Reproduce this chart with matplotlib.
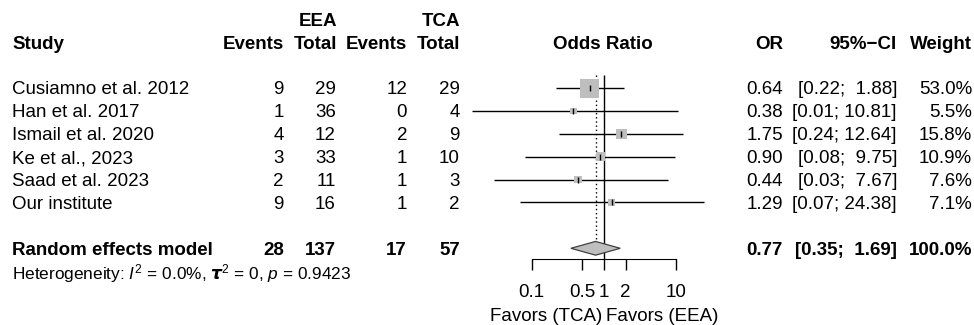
import numpy as np
import matplotlib
matplotlib.use("Agg")
import matplotlib.pyplot as plt
from matplotlib.transforms import blended_transform_factory

# --- Data ---
studies = [
    "Cusiamno et al. 2012",
    "Han et al. 2017",
    "Ismail et al. 2020",
    "Ke et al., 2023",
    "Saad et al. 2023",
    "Our institute",
]
eea_events = [9, 1, 4, 3, 2, 9]
eea_total = [29, 36, 12, 33, 11, 16]
tca_events = [12, 0, 2, 1, 1, 1]
tca_total = [29, 4, 9, 10, 3, 2]
odds = [0.64, 0.38, 1.75, 0.90, 0.44, 1.29]
ci_low = [0.22, 0.0149, 0.24, 0.08, 0.03, 0.07]
ci_high = [1.88, 10.81, 12.64, 9.75, 7.67, 24.38]
weights = [53.0, 5.5, 15.8, 10.9, 7.6, 7.1]

pooled_or = 0.77
pooled_low = 0.35
pooled_high = 1.69
pooled_counts = [28, 137, 17, 57]
heterogeneity = r"Heterogeneity: $I^2$ = 0.0%, $\boldsymbol{\tau}^2$ = 0, $p$ = 0.9423"

xticks = [0.1, 0.5, 1, 2, 10]
xtick_labels = ["0.1", "0.5", "1", "2", "10"]

# --- Style ---
plt.rcParams["font.family"] = ["Liberation Sans", "DejaVu Sans"]
plt.rcParams["mathtext.fontset"] = "custom"
plt.rcParams["mathtext.rm"] = "Liberation Sans"
plt.rcParams["mathtext.it"] = "Liberation Sans:italic"
plt.rcParams["mathtext.bf"] = "Liberation Sans:bold"
fs = 13.5
W, H = 974, 325
row0, row_h = 19.3, 22.9  # pixel y of row 0, row spacing
gray = "#BEBEBE"

fig = plt.figure(figsize=(W / 100, H / 100), dpi=100)
ax = fig.add_axes([459.4 / W, 0, 288.8 / W, 1])
ax.set_xscale("log")
ax.set_xlim(0.01, 100)
ax.set_ylim((H - row0) / row_h, -row0 / row_h)
for s in ["top", "left", "right"]:
    ax.spines[s].set_visible(False)
ax.yaxis.set_visible(False)
ax.patch.set_alpha(0)

first = 3
rows = np.arange(first, first + len(studies))
pooled_row = first + len(studies) + 1
het_row = pooled_row + 1
axis_row = (259 - row0) / row_h

# reference lines
ax.vlines(1, (75 - row0) / row_h, axis_row, color="black", lw=1.0, zorder=1)
ax.vlines(pooled_or, (75 - row0) / row_h, pooled_row - 0.3, color="black",
          lw=1.0, linestyles=(0, (1, 2)), zorder=1)

# study CIs and boxes
ax.hlines(rows, ci_low, ci_high, color="black", lw=1.0, zorder=2)
side_px = 19 * np.sqrt(np.array(weights) / max(weights))
ax.scatter(odds, rows, s=(side_px * 0.72) ** 2, marker="s", color=gray,
           edgecolors="none", zorder=3)
ax.scatter(odds, rows, s=16, marker="|", color="black", lw=1.0, zorder=4)

# pooled diamond
h = 0.3
ax.fill([pooled_low, pooled_or, pooled_high, pooled_or],
        [pooled_row, pooled_row - h, pooled_row, pooled_row + h],
        facecolor=gray, edgecolor="#404040", lw=0.9, zorder=3)

# x axis
ax.spines["bottom"].set_position(("data", axis_row))
ax.spines["bottom"].set_bounds(0.1, 10)
ax.set_xticks(xticks)
ax.set_xticklabels(xtick_labels)
ax.minorticks_off()
ax.tick_params(axis="x", length=8, width=1.0, pad=10, labelsize=fs)

tr = blended_transform_factory(fig.transFigure, ax.transData)


def put(xpx, row, text, ha="right", bold=False, size=fs):
    fig.text(xpx / W, row, text, transform=tr, ha=ha, va="center_baseline",
             fontsize=size, fontweight="bold" if bold else "normal")


# headers
put(337, 0, "EEA", bold=True)
put(460, 0, "TCA", bold=True)
put(12, 1, "Study", ha="left", bold=True)
put(284, 1, "Events", bold=True)
put(337, 1, "Total", bold=True)
put(407, 1, "Events", bold=True)
put(460, 1, "Total", bold=True)
put(603, 1, "Odds Ratio", ha="center", bold=True)
put(783, 1, "OR", bold=True)
put(897, 1, "95%\u2212CI", bold=True)
put(972, 1, "Weight", bold=True)

# study rows
for i, r in enumerate(rows):
    put(12, r, studies[i], ha="left")
    put(284, r, str(eea_events[i]))
    put(336, r, str(eea_total[i]))
    put(407, r, str(tca_events[i]))
    put(460, r, str(tca_total[i]))
    put(783, r, f"{odds[i]:.2f}")
    put(897, r, f"[{ci_low[i]:.2f}; {ci_high[i]:5.2f}]")
    put(972, r, f"{weights[i]:.1f}%")

# pooled row
put(12, pooled_row, "Random effects model", ha="left", bold=True)
for xpx, v in zip([284, 336, 407, 460], pooled_counts):
    put(xpx, pooled_row, str(v), bold=True)
put(783, pooled_row, f"{pooled_or:.2f}", bold=True)
put(897, pooled_row, f"[{pooled_low:.2f}; {pooled_high:5.2f}]", bold=True)
put(972, pooled_row, "100.0%", bold=True)
put(12, het_row, heterogeneity, ha="left", size=12.4)

# favours labels
lab_row = (314.5 - row0) / row_h
ax.text(0.94, lab_row, "Favors (TCA)", ha="right", va="center_baseline", fontsize=fs)
ax.text(1.06, lab_row, "Favors (EEA)", ha="left", va="center_baseline", fontsize=fs)

fig.savefig("out.png", dpi=100)
